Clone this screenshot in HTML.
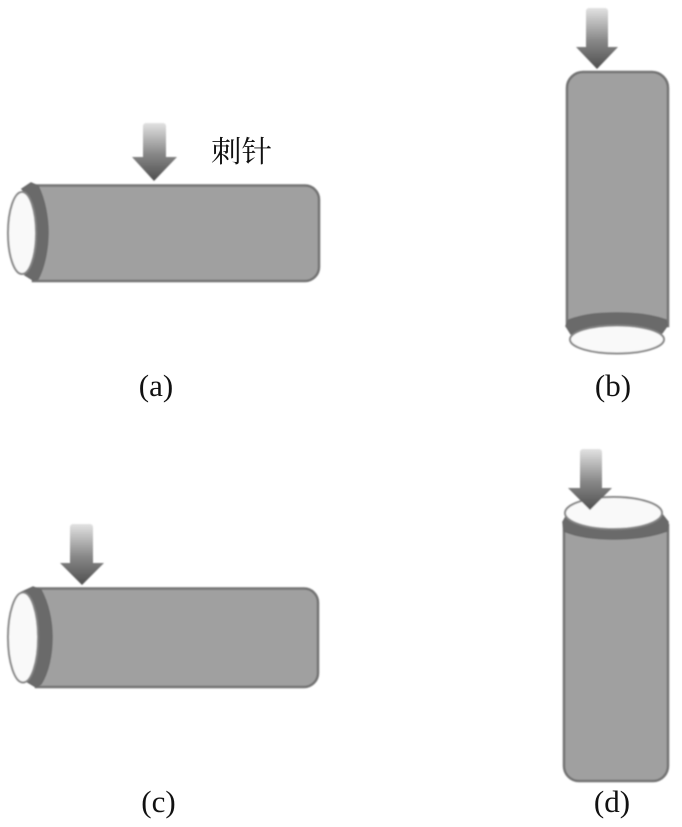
<!DOCTYPE html>
<html><head><meta charset="utf-8"><style>
html,body{margin:0;padding:0;background:#fff}
svg{display:block}
text{fill:#111}
.l{font-family:"Liberation Serif",serif;font-size:31px;text-anchor:middle}
.z{font-family:"Liberation Serif","Noto Serif CJK SC",serif;font-size:30px}
.b{fill:#a0a0a0;stroke:#727272;stroke-width:2.5}
.d{fill:#6a6a6a;stroke:#686868;stroke-width:1.5}
.e{fill:#f9f9f9;stroke:#858585;stroke-width:2}
</style></head><body>
<svg width="682" height="827" viewBox="0 0 682 827" xmlns="http://www.w3.org/2000/svg">
<defs>
<linearGradient id="g" x1="0" y1="0" x2="0" y2="1"><stop offset="0" stop-color="#e2e2e2"/><stop offset="0.55" stop-color="#858585"/><stop offset="1" stop-color="#4e4e4e"/></linearGradient>
<filter id="s" x="-5%" y="-5%" width="110%" height="110%"><feGaussianBlur stdDeviation="0.8"/></filter>
</defs>
<g filter="url(#s)">
<!-- a -->
<path class="b" d="M30 185.500H305a14 14 0 0 1 14 14V267a14 14 0 0 1-14 14H33Z"/>
<path class="d" d="M22 189L31 183L38 186C45 200 48 218 48 232C48 250 44 268 38 279L33 280L25 275C33 262 36 246 36 232C36 215 32 200 22 189Z"/>
<ellipse class="e" cx="22" cy="233" rx="14" ry="41"/>
<path fill="url(#g)" d="M146 123h17a3 3 0 0 1 3 3V157H177L154 181L132 157H143V126a3 3 0 0 1 3-3Z"/>
<!-- b -->
<path class="b" d="M567 88a16 16 0 0 1 16-16H652a16 16 0 0 1 16 16V326H567Z"/>
<path class="d" d="M566 326L569 320C585 314 600 313 617 313C635 313 652 315 666 320L667 326L662 333C650 328 635 326 617 326C600 326 582 328 571 334Z"/>
<ellipse class="e" cx="617" cy="339.500" rx="47" ry="14"/>
<path fill="url(#g)" d="M589 8h16a3 3 0 0 1 3 3V47H618L597 69L576 47H586V11a3 3 0 0 1 3-3Z"/>
<!-- c -->
<path class="b" d="M33 588.500H304a14 14 0 0 1 14 14V673a14 14 0 0 1-14 14H36Z"/>
<path class="d" d="M22 592L33 587L41 590C48 603 52 620 52 637C52 656 48 673 41 684L36 687L26 681C35 668 38 652 38 637C38 620 33 604 22 592Z"/>
<ellipse class="e" cx="23" cy="637.500" rx="15" ry="45"/>
<path fill="url(#g)" d="M73 524h17a3 3 0 0 1 3 3V563H104L82 585L60 563H70V527a3 3 0 0 1 3-3Z"/>
<!-- d -->
<path class="b" d="M564 525H668V766a15 15 0 0 1-15 15H579a15 15 0 0 1-15-15Z"/>
<path class="d" d="M563 522L568 513C578 524 595 529 614 529C633 529 652 523 661 513L668 522L667 531C650 537 632 539 614 539C596 539 578 537 564 531Z"/>
<ellipse class="e" cx="613.500" cy="513" rx="48.500" ry="16"/>
<path fill="url(#g)" d="M583 449h16a3 3 0 0 1 3 3V488H612L590 510L568 488H580V452a3 3 0 0 1 3-3Z"/>
</g>
<text class="z" x="211" y="162" textLength="61" lengthAdjust="spacingAndGlyphs">刺针</text>
<text class="l" x="156" y="396">(a)</text>
<text class="l" x="613" y="396">(b)</text>
<text class="l" x="158.500" y="812">(c)</text>
<text class="l" x="612" y="812">(d)</text>
</svg>
</body></html>
